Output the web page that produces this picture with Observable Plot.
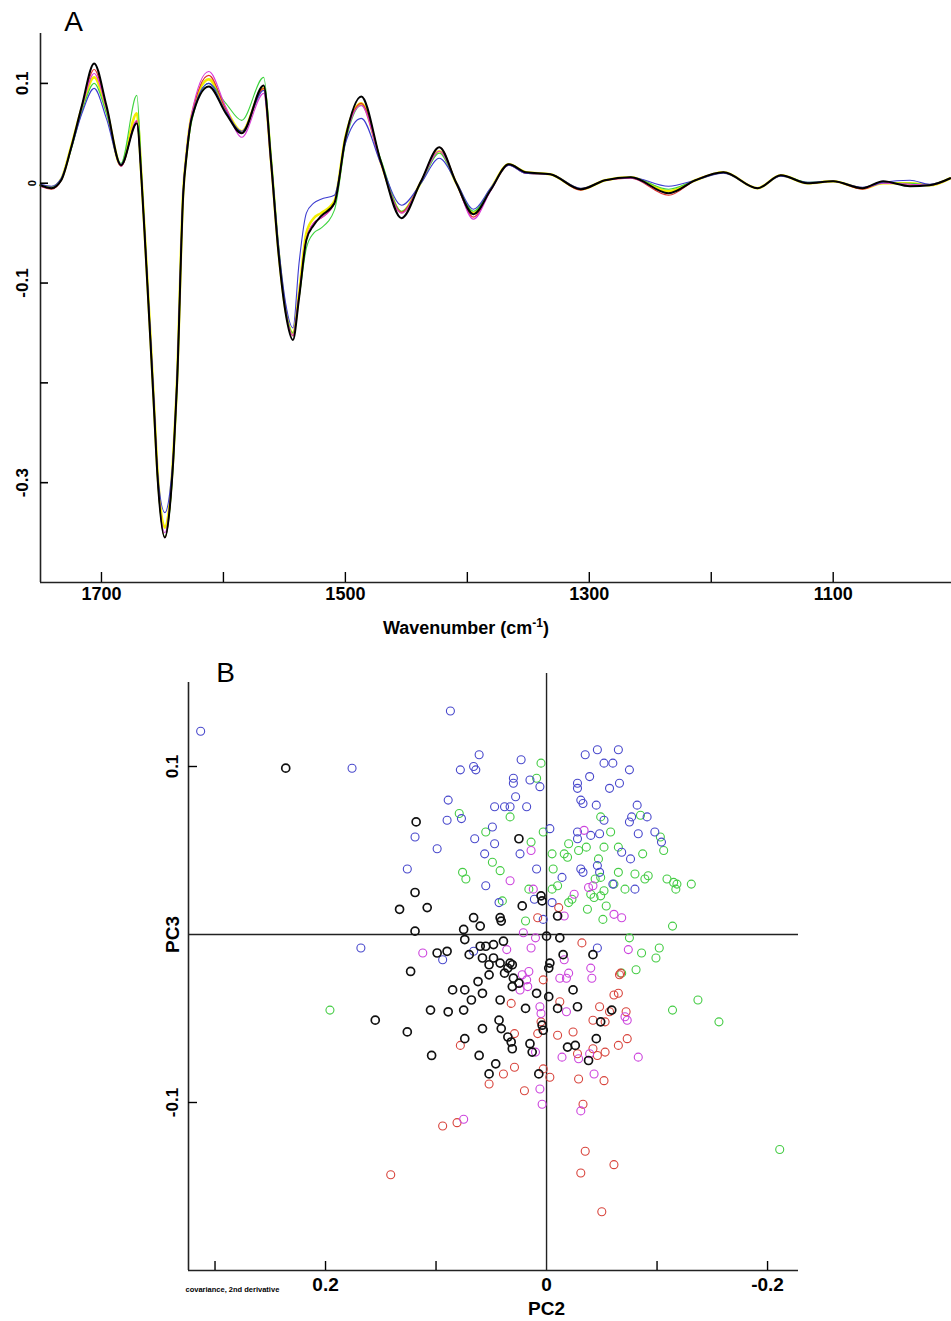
<!DOCTYPE html>
<html><head><meta charset="utf-8">
<script src="https://cdn.jsdelivr.net/npm/d3@7"></script>
<script src="https://cdn.jsdelivr.net/npm/@observablehq/plot@0.6"></script>
<style>
body{margin:0;background:#fff}
#chart svg{display:block}
</style>
</head><body><div id="chart"></div>
<script>
// ---------- Panel A: second-derivative spectra ----------
const wavenumbers = [1750,1741,1733,1725,1716,1706,1696,1684,1671,1667,1664,1660,1657,1654,1648,1644,1641,1638,1633,1630,1626,1612,1598,1585,1567,1561,1555,1549,1543,1538,1532,1526,1520,1509,1500,1487,1471,1454,1438,1423,1409,1395,1381,1366,1352,1332,1307,1287,1266,1235,1213,1190,1162,1143,1121,1100,1076,1059,1037,1021,1004];

const yellowSpec  = [-0.002,-0.004,0.004,0.036,0.076,0.106,0.074,0.018,0.07,0.002,-0.062,-0.15,-0.22,-0.29,-0.345,-0.32,-0.27,-0.196,-0.009,0.033,0.068,0.104,0.074,0.052,0.095,0.023,-0.066,-0.127,-0.15,-0.11,-0.05,-0.035,-0.03,-0.018,0.046,0.08,0.021,-0.029,0.001,0.032,0.0,-0.03,-0.006,0.019,0.011,0.009,-0.006,0.003,0.006,-0.008,0.003,0.011,-0.005,0.008,0.0,0.002,-0.005,0.0,0.0,-0.002,0.005];
const greenSpec   = [-0.003,-0.004,0.004,0.033,0.072,0.1,0.07,0.02,0.088,0.006,-0.06,-0.152,-0.224,-0.295,-0.354,-0.328,-0.278,-0.205,-0.012,0.028,0.062,0.1,0.08,0.063,0.106,0.03,-0.06,-0.125,-0.15,-0.115,-0.065,-0.05,-0.045,-0.027,0.04,0.078,0.024,-0.028,0.0,0.03,0.0,-0.028,-0.006,0.018,0.01,0.009,-0.006,0.003,0.006,-0.006,0.003,0.011,-0.005,0.008,0.001,0.002,-0.005,0.0,0.0,-0.002,0.005];
const redSpec     = [-0.003,-0.006,0.003,0.035,0.077,0.114,0.076,0.017,0.062,0.0,-0.064,-0.153,-0.222,-0.293,-0.355,-0.325,-0.272,-0.198,-0.01,0.033,0.067,0.108,0.074,0.05,0.095,0.024,-0.066,-0.128,-0.153,-0.112,-0.056,-0.04,-0.035,-0.02,0.044,0.08,0.02,-0.029,0.002,0.036,0.0,-0.034,-0.007,0.019,0.01,0.009,-0.007,0.003,0.005,-0.012,0.003,0.011,-0.005,0.008,0.0,0.002,-0.006,0.001,-0.002,-0.002,0.005];
const magentaSpec = [-0.003,-0.005,0.003,0.035,0.076,0.11,0.075,0.017,0.063,0.0,-0.064,-0.152,-0.222,-0.293,-0.35,-0.322,-0.272,-0.198,-0.01,0.035,0.07,0.112,0.076,0.046,0.09,0.018,-0.068,-0.128,-0.152,-0.112,-0.056,-0.04,-0.035,-0.02,0.044,0.078,0.02,-0.03,0.001,0.032,0.0,-0.036,-0.008,0.018,0.01,0.009,-0.006,0.003,0.005,-0.01,0.003,0.011,-0.005,0.008,0.0,0.002,-0.005,0.0,-0.001,-0.002,0.005];
const blueSpec    = [-0.001,-0.003,0.005,0.034,0.07,0.095,0.065,0.019,0.06,0.0,-0.062,-0.148,-0.215,-0.29,-0.33,-0.31,-0.27,-0.19,-0.006,0.034,0.066,0.1,0.072,0.052,0.093,0.025,-0.06,-0.12,-0.145,-0.08,-0.03,-0.02,-0.016,-0.012,0.04,0.065,0.02,-0.022,0.0,0.025,0.001,-0.026,-0.005,0.018,0.01,0.009,-0.005,0.003,0.006,-0.003,0.003,0.01,-0.005,0.007,0.001,0.002,-0.004,0.001,0.003,-0.001,0.005];
const blackSpec   = [-0.002,-0.005,0.003,0.035,0.078,0.12,0.078,0.018,0.06,0.0,-0.065,-0.155,-0.225,-0.295,-0.355,-0.325,-0.275,-0.2,-0.012,0.03,0.065,0.097,0.07,0.05,0.098,0.022,-0.068,-0.13,-0.157,-0.115,-0.057,-0.042,-0.033,-0.02,0.045,0.087,0.022,-0.035,0.002,0.036,0.0,-0.031,-0.007,0.019,0.011,0.009,-0.006,0.003,0.006,-0.01,0.003,0.011,-0.005,0.008,0.0,0.002,-0.005,0.002,-0.003,-0.002,0.005];

const specNames  = ["yellow","green","red","magenta","blue","black"];
const specValues = [yellowSpec, greenSpec, redSpec, magentaSpec, blueSpec, blackSpec];
const specColors = ["#f2ee00","#3ed43e","#e0302a","#d83ad8","#3c3cd0","#000000"];
const specWidths = [2.6, 1.1, 1.1, 1.1, 1.1, 2.0];

const aTicksX = [1700,1600,1500,1400,1300,1200,1100];
const aLabelsX = [1700,1500,1300,1100];
const aTicksY = [0.1,0,-0.1,-0.2,-0.3];
const aLabelsY = [0.1,-0.1,-0.3];
const aLabelTextY = ["0.1","-0.1","-0.3"];
const aZeroLabel = [{v: 0, t: "0"}];

// ---------- Panel B: PCA scores (PC2, PC3) ----------
const bluePts = [[0.313,0.121],[0.176,0.099],[0.087,0.133],[0.061,0.107],[0.078,0.098],[0.066,0.100],[0.064,0.098],[0.023,0.104],[0.030,0.093],[0.030,0.090],[0.015,0.092],[0.006,0.088],[0.089,0.080],[0.028,0.082],[0.047,0.076],[0.038,0.076],[0.033,0.076],[0.018,0.076],[0.077,0.069],[0.090,0.068],[0.049,0.064],[0.119,0.058],[0.065,0.057],[0.047,0.054],[0.099,0.051],[0.056,0.048],[0.024,0.048],[0.126,0.039],[0.009,0.039],[0.055,0.029],[0.011,0.021],[0.043,0.019],[0.168,-0.008],[-0.035,0.107],[-0.046,0.110],[-0.065,0.110],[-0.052,0.102],[-0.060,0.102],[-0.075,0.098],[-0.028,0.090],[-0.028,0.087],[-0.039,0.094],[-0.057,0.087],[-0.066,0.090],[-0.031,0.080],[-0.033,0.078],[-0.045,0.077],[-0.082,0.077],[-0.052,0.068],[-0.077,0.070],[-0.075,0.067],[-0.091,0.070],[-0.003,0.063],[-0.028,0.061],[-0.028,0.057],[-0.040,0.059],[-0.048,0.060],[-0.083,0.060],[-0.098,0.061],[-0.104,0.055],[-0.068,0.049],[-0.076,0.045],[-0.014,0.034],[-0.031,0.039],[-0.033,0.037],[-0.046,0.041],[-0.048,0.037],[-0.060,0.030],[-0.080,0.027],[-0.005,0.019],[0.003,0.009],[-0.046,-0.008],[0.094,-0.015],[0.066,-0.010]];
const greenPts = [[0.005,0.102],[0.009,0.093],[0.079,0.072],[0.033,0.070],[0.055,0.061],[0.014,0.055],[0.003,0.061],[0.049,0.043],[0.076,0.037],[0.073,0.033],[0.042,0.038],[0.016,0.027],[0.040,0.020],[0.019,0.008],[-0.049,0.070],[-0.085,0.071],[-0.058,0.061],[-0.103,0.058],[-0.106,0.050],[-0.020,0.054],[-0.036,0.052],[-0.052,0.052],[-0.065,0.052],[-0.029,0.050],[-0.005,0.048],[-0.016,0.048],[-0.019,0.046],[-0.087,0.048],[-0.047,0.045],[-0.006,0.039],[-0.049,0.034],[-0.044,0.033],[-0.065,0.037],[-0.080,0.036],[-0.092,0.035],[-0.089,0.033],[-0.109,0.033],[-0.115,0.031],[-0.118,0.030],[-0.131,0.030],[-0.117,0.027],[-0.061,0.030],[-0.071,0.027],[-0.005,0.027],[-0.010,0.029],[-0.040,0.024],[-0.043,0.022],[-0.049,0.023],[-0.052,0.026],[-0.020,0.019],[-0.023,0.021],[-0.037,0.015],[-0.054,0.017],[-0.051,0.009],[-0.114,0.005],[-0.075,-0.002],[-0.102,-0.008],[-0.086,-0.011],[-0.099,-0.014],[-0.081,-0.021],[-0.068,-0.023],[-0.137,-0.039],[-0.114,-0.045],[-0.156,-0.052],[-0.211,-0.128],[0.196,-0.045]];
const redPts = [[0.008,0.010],[-0.011,0.016],[-0.032,-0.005],[0.003,-0.027],[-0.066,-0.024],[-0.067,-0.023],[-0.061,-0.036],[-0.065,-0.035],[0.032,-0.041],[-0.012,-0.040],[-0.048,-0.043],[-0.057,-0.046],[-0.072,-0.046],[-0.042,-0.051],[-0.053,-0.052],[0.005,-0.052],[0.008,-0.059],[0.029,-0.059],[0.078,-0.066],[-0.010,-0.060],[-0.024,-0.058],[-0.073,-0.062],[-0.065,-0.066],[-0.028,-0.071],[-0.042,-0.068],[-0.046,-0.072],[-0.053,-0.070],[0.029,-0.079],[0.039,-0.083],[0.052,-0.089],[0.003,-0.080],[-0.003,-0.085],[-0.029,-0.086],[-0.052,-0.087],[0.020,-0.093],[-0.033,-0.101],[0.081,-0.112],[0.094,-0.114],[-0.035,-0.129],[-0.061,-0.137],[-0.031,-0.142],[-0.050,-0.165],[0.141,-0.143]];
const magentaPts = [[0.014,0.050],[0.033,0.032],[0.012,0.027],[-0.034,0.062],[-0.042,0.029],[-0.038,0.028],[-0.025,0.024],[-0.061,0.012],[-0.068,0.010],[-0.016,0.011],[0.021,0.001],[0.010,-0.002],[0.014,-0.008],[-0.074,-0.009],[0.036,-0.009],[0.112,-0.011],[-0.016,-0.015],[-0.040,-0.020],[-0.041,-0.026],[0.016,-0.022],[0.022,-0.024],[0.018,-0.027],[0.017,-0.031],[0.024,-0.033],[-0.012,-0.026],[-0.018,-0.026],[-0.020,-0.023],[0.006,-0.043],[0.005,-0.047],[-0.018,-0.046],[-0.071,-0.049],[-0.073,-0.051],[0.010,-0.070],[-0.014,-0.073],[-0.029,-0.074],[-0.039,-0.071],[-0.083,-0.073],[-0.043,-0.083],[0.006,-0.092],[0.004,-0.101],[-0.031,-0.105],[0.075,-0.110]];
const blackPts = [[0.236,0.099],[0.118,0.067],[0.025,0.057],[0.119,0.025],[0.133,0.015],[0.108,0.016],[0.005,0.023],[0.004,0.020],[0.022,0.017],[0.066,0.010],[0.042,0.010],[0.041,0.008],[0.060,0.005],[0.119,0.002],[0.075,0.003],[-0.010,0.011],[0.000,-0.001],[-0.012,-0.002],[0.074,-0.003],[0.070,-0.012],[0.060,-0.007],[0.055,-0.007],[0.048,-0.006],[0.039,-0.004],[0.099,-0.011],[0.090,-0.010],[0.058,-0.014],[0.048,-0.014],[0.052,-0.018],[0.042,-0.017],[0.033,-0.017],[0.035,-0.020],[0.031,-0.018],[0.038,-0.023],[0.052,-0.024],[-0.003,-0.017],[-0.002,-0.020],[-0.015,-0.012],[-0.042,-0.012],[0.123,-0.022],[0.030,-0.026],[0.031,-0.031],[0.025,-0.029],[0.062,-0.028],[0.058,-0.035],[0.085,-0.033],[0.074,-0.033],[0.068,-0.039],[0.042,-0.039],[0.019,-0.044],[0.009,-0.035],[-0.002,-0.037],[-0.024,-0.033],[-0.028,-0.043],[-0.010,-0.044],[-0.059,-0.045],[-0.049,-0.052],[0.105,-0.045],[0.089,-0.046],[0.075,-0.045],[0.155,-0.051],[0.126,-0.058],[0.058,-0.056],[0.043,-0.051],[0.041,-0.056],[0.003,-0.057],[0.004,-0.054],[0.074,-0.062],[0.035,-0.061],[0.032,-0.064],[0.031,-0.068],[0.015,-0.065],[0.013,-0.070],[-0.045,-0.062],[-0.019,-0.067],[-0.026,-0.066],[-0.038,-0.075],[0.104,-0.072],[0.061,-0.072],[0.046,-0.077],[0.052,-0.083],[0.007,-0.083]];

const groupNames  = ["green","blue","red","magenta","black"];
const groupPts    = [greenPts, bluePts, redPts, magentaPts, blackPts];
const groupColors = ["#44cc44","#4848cc","#d8443c","#cc44dd","#111111"];
const groupWidths = [1.1, 1.1, 1.1, 1.1, 1.7];

const bTicksX = [0.3,0.2,0.1,-0.1,-0.2];
const bLabelsX = [0.2,0,-0.2];
const bLabelTextX = ["0.2","0","-0.2"];
const bTicksY = [0.1,-0.1];
const bLabelsY = [0.1,-0.1];
const bLabelTextY = ["0.1","-0.1"];

const FONT = "Liberation Sans, Arial, Helvetica, sans-serif";

// ---------- build panel A ----------
const specRows = [];
specNames.forEach((name, k) => specValues[k].forEach((v, i) => specRows.push({wn: wavenumbers[i], v, s: name})));

const plotA = Plot.plot({
  width: 951, height: 650,
  marginLeft: 40, marginRight: 0, marginTop: 33, marginBottom: 68,
  style: {fontFamily: FONT, background: "white", color: "black"},
  x: {domain: [1750, 1003], axis: null},
  y: {domain: [-0.4, 0.15], axis: null},
  marks: [
    ...specNames.map((name, k) => Plot.line(specRows.filter(r => r.s === name),
      {x: "wn", y: "v", stroke: specColors[k], strokeWidth: specWidths[k], curve: "monotone-x"})),
    Plot.ruleX([1750], {stroke: "#222", strokeWidth: 1.6}),
    Plot.ruleY([-0.4], {stroke: "#222", strokeWidth: 1.6}),
    Plot.axisX({ticks: aTicksX, tickSize: -10, tickFormat: () => "", label: null, anchor: "bottom", strokeWidth: 1.4}),
    Plot.axisY({ticks: aTicksY, tickSize: -8, tickFormat: () => "", label: null, anchor: "left", strokeWidth: 1.6}),
    Plot.text(aLabelsX, {x: d => d, text: d => String(d), frameAnchor: "bottom", lineAnchor: "middle", textAnchor: "middle", dy: 12, fontSize: 18, fontWeight: "bold"}),
    Plot.text(aLabelsY.map((v, i) => ({v, t: aLabelTextY[i]})), {y: "v", text: "t", frameAnchor: "left",
      textAnchor: "middle", lineAnchor: "middle", dx: -18, rotate: -90, fontSize: 17, fontWeight: "bold"}),
    Plot.text(aZeroLabel, {y: "v", text: "t", frameAnchor: "left", textAnchor: "middle", lineAnchor: "middle",
      dx: -8, rotate: -90, fontSize: 11, fontWeight: "900"}),
    Plot.text(["Wavenumber (cm-1)"], {frameAnchor: "bottom", textAnchor: "middle", lineAnchor: "middle", dx: -30, dy: 46, fontSize: 18, fontWeight: "bold"}),
    Plot.text(["A"], {frameAnchor: "top-left", textAnchor: "middle", lineAnchor: "middle", dx: 33, dy: -11, fontSize: 28})
  ]
});

// ---------- build panel B ----------
const dotRows = [];
groupNames.forEach((name, k) => groupPts[k].forEach(([pc2, pc3]) => dotRows.push({pc2, pc3, g: name})));

const plotB = Plot.plot({
  width: 951, height: 671,
  marginLeft: 188, marginRight: 153, marginTop: 32, marginBottom: 51,
  style: {fontFamily: FONT, background: "white", color: "black"},
  x: {domain: [0.324, -0.228], axis: null},
  y: {domain: [-0.2, 0.15], axis: null},
  marks: [
    Plot.ruleY([0], {stroke: "#222", strokeWidth: 1.4}),
    Plot.ruleX([0], {stroke: "#222", strokeWidth: 1.4, insetTop: -9}),
    Plot.ruleX([0.324], {stroke: "#222", strokeWidth: 1.6}),
    Plot.ruleY([-0.2], {stroke: "#222", strokeWidth: 1.6}),
    Plot.axisX({ticks: bTicksX, tickSize: -9, tickFormat: () => "", label: null, anchor: "bottom", strokeWidth: 1.4}),
    Plot.axisY({ticks: bTicksY, tickSize: -9, tickFormat: () => "", label: null, anchor: "left", strokeWidth: 1.4}),
    ...groupNames.map((name, k) => Plot.dot(dotRows.filter(r => r.g === name),
      {x: "pc2", y: "pc3", r: 4, stroke: groupColors[k], strokeWidth: groupWidths[k], fill: "none"})),
    Plot.text(bLabelsX.map((v, i) => ({v, t: bLabelTextX[i]})), {x: "v", text: "t", frameAnchor: "bottom", textAnchor: "middle", lineAnchor: "middle", dy: 14, fontSize: 19, fontWeight: "bold"}),
    Plot.text(bLabelsY.map((v, i) => ({v, t: bLabelTextY[i]})), {y: "v", text: "t", frameAnchor: "left", textAnchor: "middle", lineAnchor: "middle", dx: -16, rotate: -90, fontSize: 17, fontWeight: "bold"}),
    Plot.text(["PC3"], {frameAnchor: "left", y: [0], text: d => d, textAnchor: "middle", lineAnchor: "middle", dx: -16, rotate: -90, fontSize: 19, fontWeight: "bold"}),
    Plot.text(["PC2"], {frameAnchor: "bottom", x: [0], text: d => d, textAnchor: "middle", lineAnchor: "middle", dy: 38, fontSize: 19, fontWeight: "bold"}),
    Plot.text(["covariance, 2nd derivative"], {frameAnchor: "bottom-left", textAnchor: "start", lineAnchor: "middle", dx: -3, dy: 19, fontSize: 7.5, fontWeight: "bold"}),
    Plot.text(["B"], {frameAnchor: "top-left", textAnchor: "middle", lineAnchor: "middle", dx: 37, dy: -9, fontSize: 28})
  ]
});

const chart = document.getElementById("chart");
chart.append(plotA, plotB);

// superscript in the axis title
plotA.querySelectorAll("text").forEach(t => {
  if (t.textContent === "Wavenumber (cm-1)") {
    t.textContent = "";
    const NS = "http://www.w3.org/2000/svg";
    const a = document.createElementNS(NS, "tspan"); a.textContent = "Wavenumber (cm";
    const b = document.createElementNS(NS, "tspan"); b.textContent = "-1"; b.setAttribute("dy", "-7"); b.setAttribute("font-size", "12");
    const c = document.createElementNS(NS, "tspan"); c.textContent = ")"; c.setAttribute("dy", "7");
    t.append(a, b, c);
  }
});
</script>
</body></html>
